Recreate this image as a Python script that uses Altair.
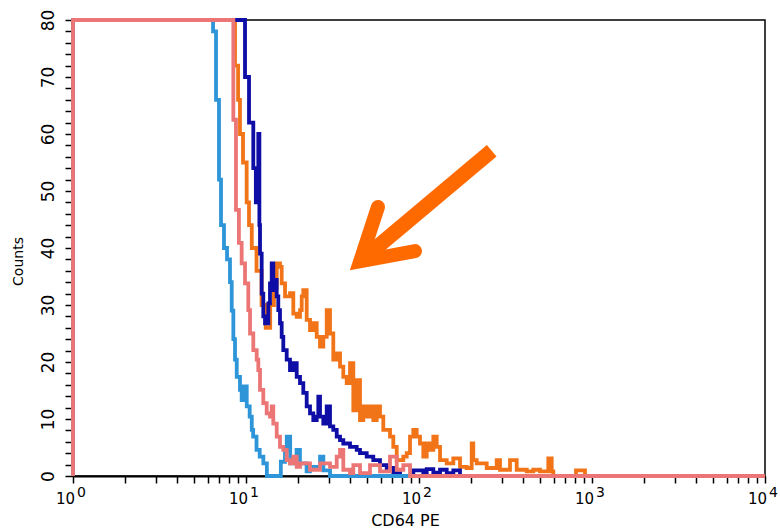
import altair as alt
import pandas as pd

FONT = "DejaVu Sans"

# ---- histogram series (intensity, counts) ----
lightblue_x = [1, 1, 6.45, 6.71, 6.98, 7.17, 7.46, 7.77, 8.08, 8.27, 8.45, 8.64, 8.84, 9.23, 9.44, 9.65,
               10.1, 10.5, 10.8, 11.0, 11.5, 12.0, 12.6, 13.2, 15.9, 16.8, 17.2, 18.0, 19.6, 20.5, 22.4,
               23.4, 26.8, 28.0, 30.6, 10000]
lightblue_y = [0, 80, 78, 66, 52, 44, 40, 38, 34, 29, 24, 20.4, 17.4, 15.1, 13.3, 15.7,
               12.2, 10.4, 8.1, 6.9, 4.6, 3.4, 2.2, 0, 2.5, 4.6, 6.9, 2.2, 4.6, 2.2, 0.8,
               1.6, 3.4, 1.0, 0, 0]

salmon_x = [1, 1, 8.45, 8.75, 9.1, 9.44, 9.87, 10.31, 10.55, 11.02, 11.53, 11.78, 12.05, 12.59, 13.17,
            13.76, 14.08, 14.38, 15.05, 15.72, 16.43, 17.19, 17.96, 18.77, 19.64, 20.52, 23.44, 26.78,
            30.59, 33.45, 34.95, 36.51, 39.93, 41.72, 45.6, 52.09, 59.51, 67.99, 74.34, 81.16, 88.72, 10000]
salmon_y = [0, 80, 62.5, 46.7, 40.9, 37.3, 33.8, 29.1, 25.0, 22.1, 20.4, 18.6, 15.1, 12.8, 11.0,
            10.4, 12.2, 9.2, 6.9, 5.1, 4.6, 2.8, 2.2, 3.4, 1.6, 2.2, 1.1, 2.2,
            1.6, 3.4, 4.6, 1.1, 0.5, 1.9, 0.5, 1.9, 0.8, 3.4, 1.1, 1.9, 0, 0]

navy_x = [1, 1, 9.87, 10.41, 11.02, 11.4, 11.78, 11.95, 12.05, 12.32, 12.59, 12.88, 13.46, 13.76, 14.08,
          14.38, 14.71, 15.05, 15.37, 15.72, 16.08, 16.43, 17.19, 17.96, 18.77, 19.64, 20.52, 21.44,
          22.43, 23.44, 24.49, 25.63, 26.18, 26.78, 27.98, 29.28, 30.59, 31.96, 33.45, 34.95, 36.51,
          39.93, 43.65, 45.6, 49.85, 54.43, 59.51, 65.07, 71.04, 77.68, 92.71, 105.9, 110.8, 121.0,
          132.3, 144.6, 157.9, 172.6, 10000]
navy_y = [0, 80, 70, 62, 54, 48, 60, 44, 39, 32, 28, 26.8, 30.3, 33.8, 37.3,
          32.6, 34.4, 31.5, 29.1, 26.8, 24.4, 22.1, 20.4, 18.6, 19.8, 17.4, 16.3, 14.6,
          12.2, 11.0, 9.8, 10.4, 13.9, 10.4, 9.2, 12.2, 8.7, 8.1, 6.9, 6.3, 5.7,
          5.1, 4.6, 4.0, 3.4, 2.8, 1.9, 1.4, 0.5, 0, 1.0, 0.6, 1.2, 0.6,
          1.1, 0.5, 1.0, 0, 0]

orange_x = [1, 1, 8.64, 9.0, 9.23, 9.61, 10.09, 10.41, 10.8, 11.5, 12.3, 13.0, 13.8, 14.5, 15.05,
            15.72, 16.08, 16.81, 17.96, 18.77, 19.64, 20.52, 20.99, 21.44, 22.43, 23.44, 24.49, 25.63,
            26.78, 27.98, 29.28, 30.59, 31.96, 33.45, 34.95, 36.51, 38.20, 39.93, 41.72, 43.65, 45.6,
            47.64, 49.85, 52.09, 54.43, 56.95, 59.51, 62.18, 67.99, 71.04, 74.34, 81.16, 84.93, 88.72,
            92.71, 96.98, 101.3, 105.9, 110.8, 115.8, 121.0, 126.6, 132.3, 144.6, 157.9, 172.6, 188.7,
            201.7, 206.0, 215.6, 246.2, 281.2, 293.9, 335.7, 367.1, 419.4, 457.8, 500.5, 559.0, 585.0,
            597.6, 808, 911, 10000]
orange_y = [0, 80, 72, 66, 60, 55, 48, 44, 40, 36, 30, 26, 30, 33, 37.3,
            36.7, 33.8, 31.5, 32.1, 28.5, 27.9, 29.1, 31.5, 32.6, 27.4, 25.6, 26.8, 24.4,
            22.7, 24.4, 29.1, 25.0, 20.4, 21.5, 19.2, 17.4, 16.3, 19.8, 11.5, 16.8, 9.8,
            12.2, 10.4, 12.2, 9.8, 12.2, 10.4, 8.1, 6.9, 5.1, 2.8, 3.4, 4.0, 6.9,
            8.1, 6.9, 5.7, 3.4, 5.7, 4.6, 6.9, 5.1, 2.8, 2.2, 3.1, 1.6, 1.4,
            5.7, 2.8, 2.2, 1.4, 2.8, 1.1, 2.8, 1.1, 0.8, 1.1, 0.8, 3.1, 0.8,
            0, 1.0, 0, 0]

# ---- axis ticks / labels ----
decades = [1, 10, 100, 1000, 10000]
exponents = ["0", "1", "2", "3", "4"]
x_ticks = [m * d for d in decades[:-1] for m in range(1, 10)] + [10000]
y_ticks = list(range(0, 81, 2))

# ---- arrow annotation (data coordinates) ----
arrow_shaft_x = [263.2, 45.7]
arrow_shaft_y = [57.05, 37.67]
arrow_head_x = [57.9, 45.7, 94.8]
arrow_head_y = [47.19, 37.67, 39.47]

COLORS = {"lightblue": "#2E96D8", "salmon": "#EC7676", "navy": "#0E0EA6", "orange": "#F27419"}
ARROW = "#FF6A00"


def df(xs, ys):
    return pd.DataFrame({"x": xs, "y": ys, "i": list(range(len(xs)))})


X = alt.X(
    "x:Q",
    scale=alt.Scale(type="log", domain=[1, 10000], nice=False),
    axis=alt.Axis(
        values=x_ticks,
        labelExpr="indexof([1,10,100,1000,10000], datum.value) >= 0 ? '10' : ''",
        labelFontSize=15, labelAlign="center", labelBaseline="top", labelOffset=-8,
        labelPadding=8, labelFlush=False, labelOverlap=False,
        tickSize=7, tickWidth=1.5, domainWidth=2,
        title="CD64 PE", titleFontSize=16, titleX=332, titleY=44,
        titleAlign="center", titleBaseline="middle",
    ),
)
Y = alt.Y(
    "y:Q",
    scale=alt.Scale(domain=[0, 80], nice=False),
    axis=alt.Axis(
        values=y_ticks,
        labelExpr="datum.value % 10 == 0 ? datum.label : ''",
        labelAngle=-90, labelAlign="center", labelBaseline="bottom",
        labelFontSize=17, labelPadding=8, labelFlush=False, labelOverlap=False,
        tickSize=8, tickWidth=1.5, domainWidth=1.5,
        title="Counts", titleFontSize=14, titleAngle=-90, titleX=-55, titleY=241,
        titleAlign="center", titleBaseline="middle",
    ),
)
ORDER = alt.Order("i:Q")


def hist(xs, ys, color):
    return alt.Chart(df(xs, ys)).mark_line(
        interpolate="step-after", color=color, strokeWidth=3.8
    ).encode(x=X, y=Y, order=ORDER)


layers = [
    hist(orange_x, orange_y, COLORS["orange"]),
    hist(navy_x, navy_y, COLORS["navy"]),
    hist(lightblue_x, lightblue_y, COLORS["lightblue"]),
    hist(salmon_x, salmon_y, COLORS["salmon"]),
]

shaft = alt.Chart(df(arrow_shaft_x, arrow_shaft_y)).mark_line(
    color=ARROW, strokeWidth=15, strokeCap="butt"
).encode(x=X, y=Y, order=ORDER)

head = alt.Chart(df(arrow_head_x, arrow_head_y)).mark_line(
    color=ARROW, strokeWidth=14, strokeCap="round", strokeJoin="miter", strokeMiterLimit=6
).encode(x=X, y=Y, order=ORDER)

exp_df = pd.DataFrame({"x": decades, "y": [0] * len(decades), "t": exponents})
exps = alt.Chart(exp_df).mark_text(
    align="left", baseline="top", dx=4, dy=10, fontSize=14, font=FONT, color="black"
).encode(x=X, y=Y, text="t:N")

chart = alt.layer(*layers, shaft, head, exps).properties(
    width=692, height=456,
    autosize=alt.AutoSizeParams(type="none"),
    padding={"left": 73, "top": 20, "right": 15, "bottom": 54},
    background="white",
).configure_view(
    stroke="black", strokeWidth=1.5
).configure_axis(
    grid=False, domainColor="black", tickColor="black", labelColor="black", titleColor="black",
    labelFont=FONT, titleFont=FONT, titleFontWeight="normal",
)

chart.save("out.html", embed_options={"renderer": "svg", "actions": False})
